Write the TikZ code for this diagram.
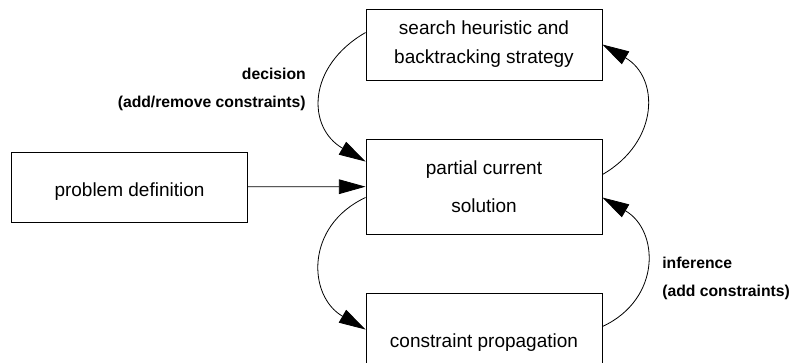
\documentclass[tikz,border=0pt]{standalone}
\usepackage{fontspec}
\setmainfont{Liberation Sans}
\usetikzlibrary{arrows.meta}
\tikzset{
  box/.style={draw, line width=0.7pt, minimum width=177pt, align=center,
    font=\fontsize{14.25}{21.75}\selectfont},
  oneline/.style={text height=18pt, text depth=3pt},
  lbl/.style={inner sep=0pt, font=\fontsize{11.8}{21}\selectfont\bfseries},
  arc/.style={line width=0.6pt, -{Triangle[length=20pt,width=11pt]}}
}
\begin{document}
\begin{tikzpicture}[x=0.75pt,y=0.75pt]
      \useasboundingbox (0,0) rectangle (790,-363);
      \draw
        (484,-44.5) node[box, minimum height=53.25pt] (search){search heuristic and\\backtracking strategy}
        (484,-186.5) node[box, minimum height=71.25pt] (partial){partial current\\[6.75pt]solution}
        (484,-338) node[box, oneline, minimum height=67.5pt] (propagation){constraint propagation}
        (129.5,-187) node[box, oneline, minimum height=52.5pt] (problem){problem definition};
      \node[lbl, anchor=east, align=right] (decision) at (306,-89) {decision\\(add/remove constraints)};
      \node[lbl, anchor=west, align=left] (inference) at (662,-278.5) {inference\\(add constraints)};
      \begin{scope}[arc]
        \draw (problem) -- (partial);
        \draw ([yshift=-24*0.75pt]search.north west) to[out=210, in=150, looseness=1.35] ([yshift=-23*0.75pt]partial.north west);
        \draw ([yshift=-59*0.75pt]partial.north west) to[out=205, in=150, looseness=1.3] ([yshift=-37*0.75pt]propagation.north west);
        \draw ([yshift=-36*0.75pt]partial.north east) to[out=30, in=-30, looseness=1.3] ([yshift=-36*0.75pt]search.north east);
        \draw ([yshift=-34*0.75pt]propagation.north east) to[out=25, in=-30, looseness=1.3] ([yshift=-59*0.75pt]partial.north east);
      \end{scope}
    \end{tikzpicture}
\end{document}
